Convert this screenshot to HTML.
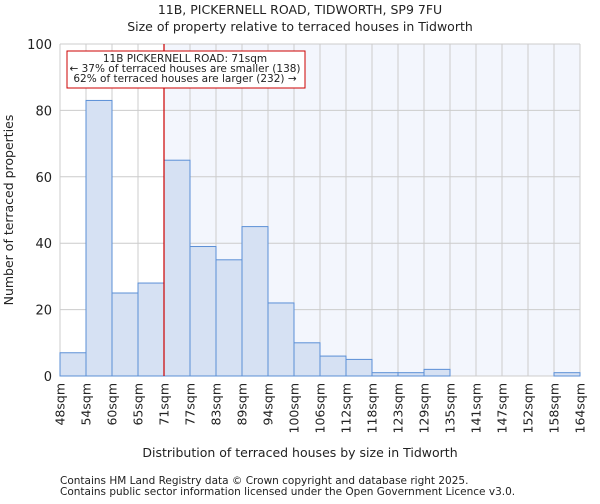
<!DOCTYPE html>
<html><head><meta charset="utf-8"><style>
body{margin:0;background:#fff;font-family:"DejaVu Sans","Liberation Sans",sans-serif;}
svg text{font-family:"DejaVu Sans","Liberation Sans",sans-serif;fill:#222}
</style></head><body>
<svg id="chart" width="600" height="500">
<text x="300" y="14" font-size="12.5" text-anchor="middle">11B, PICKERNELL ROAD, TIDWORTH, SP9 7FU</text>
<text x="300" y="31" font-size="12.5" text-anchor="middle">Size of property relative to terraced houses in Tidworth</text>
<g id="plot"></g>
<text x="300" y="457" font-size="12.5" text-anchor="middle">Distribution of terraced houses by size in Tidworth</text>
<text transform="translate(13,210) rotate(-90)" font-size="12.5" text-anchor="middle">Number of terraced properties</text>
<text x="60" y="484" font-size="10.5" fill="#555">Contains HM Land Registry data © Crown copyright and database right 2025.</text>
<text x="60" y="495" font-size="10.5" fill="#555">Contains public sector information licensed under the Open Government Licence v3.0.</text>
</svg>
<script>
const categories=["48sqm","54sqm","60sqm","65sqm","71sqm","77sqm","83sqm","89sqm","94sqm","100sqm","106sqm","112sqm","118sqm","123sqm","129sqm","135sqm","141sqm","147sqm","152sqm","158sqm","164sqm"];
const counts=[7,83,25,28,65,39,35,45,22,10,6,5,1,1,2,0,0,0,0,1];
const yTicks=[0,20,40,60,80,100];
const markerBin=4;
const NS="http://www.w3.org/2000/svg";
const x0=60,x1=580,y0=376,y1=44,yMax=100;
const bw=(x1-x0)/counts.length;
const xs=i=>x0+i*bw, ys=v=>y0-(v/yMax)*(y0-y1);
const g=document.getElementById('plot');
function mk(t,a){const e=document.createElementNS(NS,t);for(const k in a)e.setAttribute(k,a[k]);g.appendChild(e);return e;}
let e=mk('rect',{x:xs(markerBin),y:y1,width:x1-xs(markerBin),height:y0-y1,fill:'#f3f6fd'});


for(let i=0;i<=counts.length;i++){e=mk('line',{x1:xs(i),x2:xs(i),y1:y1,y2:y0,stroke:'#cccccc'});

}
yTicks.forEach(t=>{e=mk('line',{x1:x0,x2:x1,y1:ys(t),y2:ys(t),stroke:'#cccccc'});


const tx=mk('text',{x:x0-8,y:ys(t)+5,'font-size':13,'text-anchor':'end'});tx.textContent=t;

});
counts.forEach((c,i)=>{const r=mk('rect',{x:xs(i),y:ys(c),width:bw,height:y0-ys(c),fill:'#d6e1f3',stroke:'#5b8fd6','stroke-width':1});

});
categories.forEach((c,i)=>{const t=mk('text',{transform:`translate(${xs(i)+4.5},383) rotate(-90)`,'font-size':12.5,'text-anchor':'end'});t.textContent=c;

});
e=mk('line',{x1:xs(markerBin),x2:xs(markerBin),y1:y1,y2:y0,stroke:'#cc0000','stroke-width':1.2});


const box=mk('rect',{x:67,y:51,width:238,height:37,fill:'#fff',stroke:'#cc0000','stroke-width':1});


[["11B PICKERNELL ROAD: 71sqm",62],["← 37% of terraced houses are smaller (138)",72],["62% of terraced houses are larger (232) →",82]].forEach(([s,y])=>{const t=mk('text',{x:185,y:y,'font-size':10.5,'text-anchor':'middle'});t.textContent=s;

});
</script>
</body></html>
